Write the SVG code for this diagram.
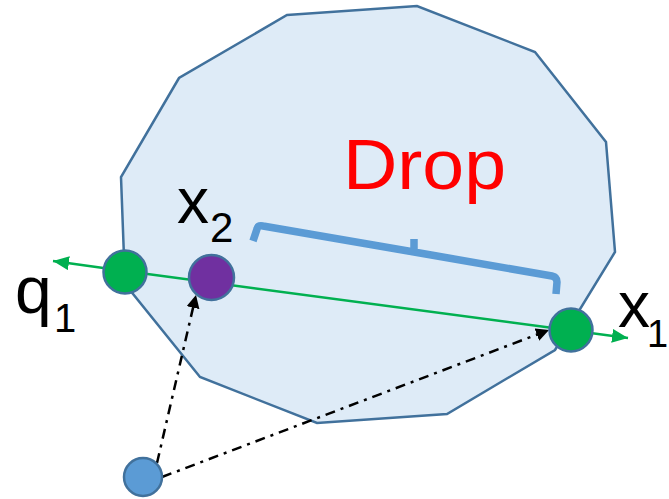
<svg xmlns="http://www.w3.org/2000/svg" width="669" height="499" viewBox="0 0 669 499">
  <style>
    .node { stroke: #41719C; stroke-width: 2.5; }
    .lbl { font-family: "Liberation Sans", Arial, sans-serif; fill: #000; }
    .dd { fill: none; stroke: #000; stroke-width: 2.5; stroke-dasharray: 10 6 3 6; }
  </style>
  <defs>
    <marker id="ag" viewBox="0 0 16 14" refX="16" refY="7" markerWidth="16" markerHeight="14" markerUnits="userSpaceOnUse" orient="auto">
      <path d="M0,0 L16,7 L0,14 Z" fill="#00B050"/>
    </marker>
    <marker id="ab" viewBox="0 0 13 13" refX="13" refY="6.5" markerWidth="13" markerHeight="13" markerUnits="userSpaceOnUse" orient="auto">
      <path d="M0,0 L13,6.5 L0,13 Z" fill="#000"/>
    </marker>
  </defs>

  <g id="region">
    <polygon points="287,15 417,6 535,52 606,142 615,252 555,350 447,414 317,423 200,377 125,284 121,177 179,78" fill="#DEEBF7" stroke="#41719C" stroke-width="2.5" stroke-linejoin="miter"/>
  </g>

  <g id="bracket">
    <path d="M253,241 L257,229 Q258,225 263,226 L414,252 L414,239 M414,252 L552,276 Q557,277 557,282 L556,294" fill="none" stroke="#5B9BD5" stroke-width="7.5" stroke-linejoin="round"/>
  </g>

  <g id="connectors">
    <line x1="125" y1="271" x2="53" y2="261" stroke="#00B050" stroke-width="2.5" marker-end="url(#ag)"/>
    <line x1="125" y1="271" x2="628" y2="338" stroke="#00B050" stroke-width="2.5" marker-end="url(#ag)"/>
    <line class="dd" x1="157" y1="463" x2="196" y2="295" marker-end="url(#ab)"/>
    <line class="dd" x1="162" y1="477" x2="549" y2="330" marker-end="url(#ab)"/>
  </g>

  <g id="q1">
    <circle class="node" cx="125" cy="272" r="21.5" fill="#00B050"/>
  </g>
  <g id="x2">
    <circle class="node" cx="211.5" cy="277.5" r="22.5" fill="#7030A0"/>
  </g>
  <g id="x1">
    <circle class="node" cx="571" cy="330" r="21.5" fill="#00B050"/>
  </g>
  <g id="origin">
    <circle class="node" cx="143" cy="477" r="19" fill="#5B9BD5"/>
  </g>

  <g id="labels">
    <text x="343" y="189" font-family="Liberation Sans, Arial, sans-serif" font-size="71" fill="#FF0000" textLength="163" lengthAdjust="spacingAndGlyphs">Drop</text>
    <text class="lbl" x="177" y="223" font-size="64">x</text>
    <text class="lbl" x="210" y="242" font-size="42">2</text>
    <text class="lbl" x="15" y="313" font-size="66">q</text>
    <text class="lbl" x="54" y="332" font-size="40">1</text>
    <text class="lbl" x="618" y="327" font-size="64">x</text>
    <text class="lbl" x="647" y="347" font-size="38">1</text>
  </g>
</svg>
